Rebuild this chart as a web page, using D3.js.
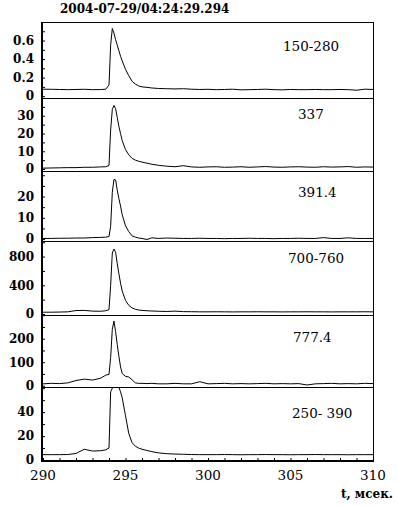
<!DOCTYPE html>
<html>
<head>
<meta charset="utf-8">
<script src="https://cdn.jsdelivr.net/npm/d3@7"></script>
<style>
  body { margin: 0; background: #fff; }
</style>
</head>
<body>
<div id="chart"></div>
<script>
// time axis, msec
var times = [290, 290.5, 291, 291.5, 292, 292.5, 293, 293.5,
  293.8, 294.0, 294.1, 294.2, 294.3, 294.4, 294.5, 294.6, 294.7, 294.8,
  295.0, 295.2, 295.4, 295.6, 295.8, 296.0, 296.3, 296.6,
  297, 297.5, 298, 298.5, 299, 299.5, 300, 300.5, 301, 301.5, 302, 302.5, 303, 303.5,
  304, 304.5, 305, 305.5, 306, 306.5, 307, 307.5, 308, 308.5, 309, 309.5, 310];

// one trace per band
var s150_280 = [0.075, 0.074, 0.072, 0.070, 0.072, 0.074, 0.070, 0.071,
  0.075, 0.12, 0.55, 0.73, 0.68, 0.61, 0.55, 0.49, 0.43, 0.38,
  0.29, 0.22, 0.16, 0.13, 0.11, 0.10, 0.095, 0.088,
  0.083, 0.080, 0.078, 0.080, 0.075, 0.072, 0.074, 0.070, 0.072, 0.075, 0.068, 0.070, 0.072, 0.075,
  0.070, 0.068, 0.072, 0.070, 0.070, 0.072, 0.070, 0.070, 0.072, 0.070, 0.064, 0.075, 0.072];
var s337 = [0.5, 0.6, 0.7, 0.8, 0.8, 1.0, 1.0, 1.2,
  1.3, 2, 22, 33.5, 35.8, 34, 29, 24, 20, 16,
  11, 8, 6, 5, 4.4, 3.9, 3.3, 2.7,
  2.1, 1.6, 1.3, 1.9, 1.2, 1.0, 1.2, 1.3, 1.0, 1.1, 1.3, 1.0, 1.2, 1.4,
  1.1, 1.0, 1.2, 1.3, 1.1, 1.0, 1.3, 1.1, 1.2, 1.4, 1.0, 1.2, 1.1];
var s391 = [0.3, 0.3, 0.4, 0.4, 0.5, 0.5, 0.7, 0.8,
  0.9, 1.2, 6, 22, 28, 27.8, 23, 19, 15.5, 11.5,
  6.2, 3.5, 1.5, 0.9, 0.5, 0.3, -0.2, 0.6,
  0.3, 0.5, 0.4, 0.3, 0.3, 0.4, 0.3, 0.3, 0.2, 0.3, 0.3, 0.4, 0.3, 0.3,
  0.2, 0.3, 0.3, 0.4, 0.3, 0.3, 0.7, 0.3, 0.3, 0.6, 0.3, 0.3, 0.3];
var s700_760 = [25, 25, 27, 30, 48, 50, 40, 38,
  45, 60, 400, 850, 905, 860, 700, 560, 430, 320,
  190, 120, 85, 65, 55, 50, 45, 42,
  38, 35, 40, 33, 32, 30, 30, 31, 30, 29, 30, 30, 31, 30,
  30, 29, 30, 30, 31, 30, 30, 29, 30, 30, 30, 31, 30];
var s777 = [8, 10, 9, 12, 22, 28, 24, 32,
  45, 48, 120, 240, 275, 230, 175, 125, 80, 52,
  40, 37, 25, 12, 10, 10, 9, 10,
  8, 8, 10, 8, 8, 17, 8, 9, 10, 8, 9, 8, 9, 10,
  8, 9, 8, 9, 3, 8, 9, 10, 8, 9, 8, 10, 9];
var s250_390 = [4.5, 4.5, 4.5, 4.6, 5.5, 9, 7.5, 7.8,
  8.5, 10, 57, 60, 61, 61, 61, 60.5, 57, 52,
  37, 22, 14.5, 11.5, 10, 9, 8, 7,
  6, 5.3, 5, 4.8, 4.6, 4.5, 4.5, 4.5, 4.6, 4.5, 4.4, 4.5, 4.5, 4.6,
  4.5, 4.5, 4.4, 4.5, 4.5, 4.6, 4.5, 4.5, 4.5, 4.4, 4.5, 4.5, 4.5];

var series = [s150_280, s337, s391, s700_760, s777, s250_390];
var panelLabels = ["150-280", "337", "391.4", "700-760", "777.4", "250- 390"];
var yTickLabels = [[0, 0.2, 0.4, 0.6], [0, 10, 20, 30], [0, 10, 20], [0, 400, 800], [0, 100, 200], [0, 20, 40]];
var yMinorStep = [0.1, 5, 5, 200, 50, 10];
var yDomains = [[-0.02, 0.8], [-1.1, 40], [-0.9, 32], [-14, 1017], [-5.5, 301], [-0.8, 61]];
var xTickLabels = [290, 295, 300, 305, 310];
var title = "2004-07-29/04:24:29.294";
var xTitle = "t, мсек.";

// layout
var W = 397, H = 506;
var left = 42, right = 373;
var panelEdges = [22, 98, 171, 241, 315, 387, 461];
var labelPos = [[283, 51], [298, 119], [298, 197], [288, 263], [293, 342], [292, 418]];

var svg = d3.select("#chart").append("svg")
    .attr("width", W)
    .attr("height", H)
    .style("font-family", "'DejaVu Serif', serif");

var x = d3.scaleLinear().domain([290, 310]).range([left + 1, right]);

series.forEach(function(vals, i) {
  var top = panelEdges[i], bottom = panelEdges[i + 1];
  var y = d3.scaleLinear().domain(yDomains[i]).range([bottom, top]);
  var g = svg.append("g");

  g.append("clipPath").attr("id", "clip" + i)
    .append("rect").attr("x", left).attr("y", top)
    .attr("width", right - left).attr("height", bottom - top);

  // minor ticks, inward
  var minor = d3.range(0, yDomains[i][1], yMinorStep[i]);
  var ax = g.append("g").attr("transform", "translate(" + left + ",0)")
    .call(d3.axisLeft(y).tickValues(minor).tickSize(-3).tickFormat(""));
  ax.select(".domain").remove();
  ax.selectAll("line").attr("stroke", "#000");

  // tick labels
  g.selectAll("text.yl").data(yTickLabels[i]).enter().append("text")
    .attr("class", "yl")
    .attr("x", 34)
    .attr("y", function(d) { return y(d); })
    .attr("dy", "0.36em")
    .attr("text-anchor", "end")
    .attr("font-weight", "bold")
    .attr("font-size", 12)
    .text(function(d) { return d3.format("~g")(d); });

  // trace
  var line = d3.line()
    .x(function(d, j) { return x(times[j]); })
    .y(function(d) { return y(d); });
  g.append("path").datum(vals)
    .attr("clip-path", "url(#clip" + i + ")")
    .attr("fill", "none")
    .attr("stroke", "#000")
    .attr("stroke-width", 1)
    .attr("d", line);

  // frame
  g.append("rect")
    .attr("x", left).attr("y", top + 0.5)
    .attr("width", right - left + 0.5).attr("height", bottom - top)
    .attr("fill", "none").attr("stroke", "#000").attr("stroke-width", 1);

  g.append("text")
    .attr("x", labelPos[i][0]).attr("y", labelPos[i][1])
    .attr("font-size", 13.5)
    .text(panelLabels[i]);
});

// bottom axis ticks every 1 msec, inward
var xa = svg.append("g").attr("transform", "translate(0," + panelEdges[6] + ")")
  .call(d3.axisBottom(x).tickValues(d3.range(290, 311, 1)).tickSize(-3).tickFormat(""));
xa.select(".domain").remove();
xa.selectAll("line").attr("stroke", "#000");

svg.selectAll("text.xl").data(xTickLabels).enter().append("text")
  .attr("class", "xl")
  .attr("x", function(d) { return x(d); })
  .attr("y", 480)
  .attr("text-anchor", "middle")
  .attr("font-size", 13.5)
  .text(function(d) { return d; });

// thick left and bottom axis lines
svg.append("line")
  .attr("x1", left).attr("x2", left)
  .attr("y1", panelEdges[0]).attr("y2", panelEdges[6] + 1)
  .attr("stroke", "#000").attr("stroke-width", 2);
svg.append("line")
  .attr("x1", left - 1).attr("x2", right + 1)
  .attr("y1", panelEdges[6]).attr("y2", panelEdges[6])
  .attr("stroke", "#000").attr("stroke-width", 2);

svg.append("text")
  .attr("x", 60).attr("y", 13)
  .attr("font-weight", "bold").attr("font-size", 12)
  .text(title);

svg.append("text")
  .attr("x", 393).attr("y", 498)
  .attr("text-anchor", "end")
  .attr("font-weight", "bold").attr("font-size", 12)
  .text(xTitle);
</script>
</body>
</html>
